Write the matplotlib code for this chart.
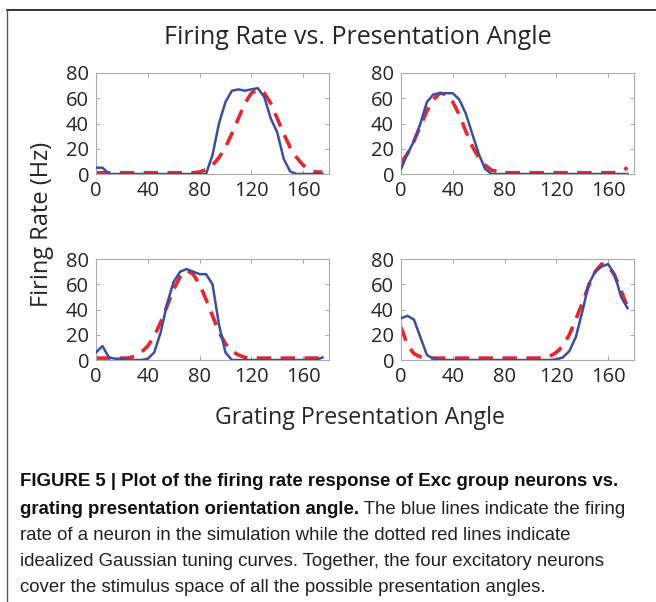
import numpy as np
import matplotlib
matplotlib.use("Agg")
import matplotlib.pyplot as plt
from matplotlib.lines import Line2D

plt.rcParams['font.family'] = ['Open Sans', 'DejaVu Sans']

angles = list(range(0, 180, 5))

# neuron responses (blue) and idealized gaussian tuning curves (red)
blue_tl = [5, 5, 0, 0, 0, 0, 0, 0, 0, 0, 0, 0, 0, 0, 0, 0, 0, 0,
           15, 40, 57, 66, 67, 66, 67, 68, 61, 44, 33, 12, 2, 0, 0, 0, 0, 0]
red_tl = [1, 1, 1, 1, 1, 1, 1, 1, 1, 1, 1, 1, 1, 1, 1, 1, 1.6, 3.5,
          7, 13, 21, 32, 44, 56, 64, 67, 64, 56, 44, 32, 21, 13, 7, 3.5, 1.6, 1.5]

blue_tr = [4, 16, 26, 40, 57, 63, 64, 64, 64, 59, 48, 32, 16, 4, 0, 0, 0, 0,
           0, 0, 0, 0, 0, 0, 0, 0, 0, 0, 0, 0, 0, 0, 0, 0, 0, 0]
red_tr = [9, 16, 26, 38, 50, 59, 64, 63, 57, 47, 34, 22, 13, 7, 3, 2, 1, 1,
          1, 1, 1, 1, 1, 1, 1, 1, 1, 1, 1, 1, 1, 1, 1, 1, 2, 5]

blue_bl = [6, 11, 2, 1, 1, 0, 0, 0, 1, 6, 22, 45, 62, 70, 72, 70, 68, 68,
           60, 28, 6, 0, 0, 0, 0, 0, 0, 0, 0, 0, 0, 0, 0, 0, 0, 2]
red_bl = [1.5, 1.5, 1.5, 1.5, 1.5, 1.5, 3, 6, 11, 19, 30, 43, 56, 66, 71, 68, 60, 48,
          35, 22, 13, 7, 4, 2, 1.5, 1.5, 1.5, 1.5, 1.5, 1.5, 1.5, 1.5, 1.5, 1.5, 1.5, 1.5]

blue_br = [33, 35, 32, 18, 4, 1, 0, 0, 0, 0, 0, 0, 0, 0, 0, 0, 0, 0,
           0, 0, 0, 0, 0, 0, 0.5, 2, 7, 18, 38, 60, 70, 74, 76, 68, 50, 41]
red_br = [26, 12, 5, 2.5, 1.5, 1.5, 1.5, 1.5, 1.5, 1.5, 1.5, 1.5, 1.5, 1.5, 1.5, 1.5, 1.5, 1.5,
          1.5, 1.5, 1.5, 1.5, 2, 3, 6, 11, 20, 32, 45, 59, 70, 76, 75, 67, 55, 42]

panels = [(blue_tl, red_tl), (blue_tr, red_tr), (blue_bl, red_bl), (blue_br, red_br)]
xticks = [0, 40, 80, 120, 160]
yticks = [0, 20, 40, 60, 80]

W, H = 656, 602
fig = plt.figure(figsize=(W / 100, H / 100), dpi=100)

blue = '#3a4ea6'
red = '#e8262d'
txt = '#262626'

# axes boxes in pixels: left, top, right, bottom
boxes = [(96, 73, 329, 174), (401, 73, 634, 174),
         (96, 259, 329, 360), (401, 259, 634, 360)]

for (b, r), (l, t, rr, bt) in zip(panels, boxes):
    ax = fig.add_axes([l / W, 1 - bt / H, (rr - l) / W, (bt - t) / H])
    ax.plot(angles, b, color=blue, lw=1.8, zorder=3)
    ax.plot(angles, r, color=red, lw=2.6, dashes=(4, 2.6), zorder=2)
    ax.set_xlim(0, 180)
    ax.set_ylim(0, 80)
    ax.set_xticks(xticks)
    ax.set_yticks(yticks)
    ax.tick_params(direction='in', top=True, right=True, length=3,
                   width=0.6, color='#999999', labelsize=14.5, labelcolor=txt, pad=5)
    for s in ax.spines.values():
        s.set_color('#aaaaaa')
        s.set_linewidth(0.8)

fig.text(358 / W, 1 - 38 / H, 'Firing Rate vs. Presentation Angle',
         ha='center', va='center', fontsize=18, color=txt)
fig.text(42 / W, 1 - 224 / H, 'Firing Rate (Hz)', rotation=90,
         ha='center', va='center', fontsize=17, color=txt)
fig.text(360 / W, 1 - 418 / H, 'Grating Presentation Angle',
         ha='center', va='center', fontsize=16.7, color=txt)

# frame lines
fig.add_artist(Line2D([7 / W, 1], [1 - 10 / H, 1 - 10 / H], color='#222222', lw=1.3))
fig.add_artist(Line2D([7 / W, 7 / W], [0, 1 - 10 / H], color='#555555', lw=1.0))

# caption
cap_font = ['Liberation Sans Narrow', 'Liberation Sans', 'DejaVu Sans']
cfs = 13.4
cx = 20 / W
fig.text(cx, 1 - 481 / H,
         'FIGURE 5 | Plot of the firing rate response of Exc group neurons vs.',
         family=cap_font, fontsize=cfs, fontweight='bold', va='center', color='#111111')
bold2 = fig.text(cx, 1 - 509 / H, 'grating presentation orientation angle.',
                 family=cap_font, fontsize=cfs, fontweight='bold', va='center', color='#111111')
fig.add_artist(plt.Annotation(' The blue lines indicate the firing', xy=(1, 0.5),
                              xycoords=bold2, va='center', ha='left', family=cap_font,
                              fontsize=cfs, color='#222222', annotation_clip=False))
rest = ['rate of a neuron in the simulation while the dotted red lines indicate',
        'idealized Gaussian tuning curves. Together, the four excitatory neurons',
        'cover the stimulus space of all the possible presentation angles.']
for line, y in zip(rest, [535, 561, 588]):
    fig.text(cx, 1 - y / H, line, family=cap_font, fontsize=cfs, va='center', color='#222222')

fig.savefig('out.png', dpi=100)
